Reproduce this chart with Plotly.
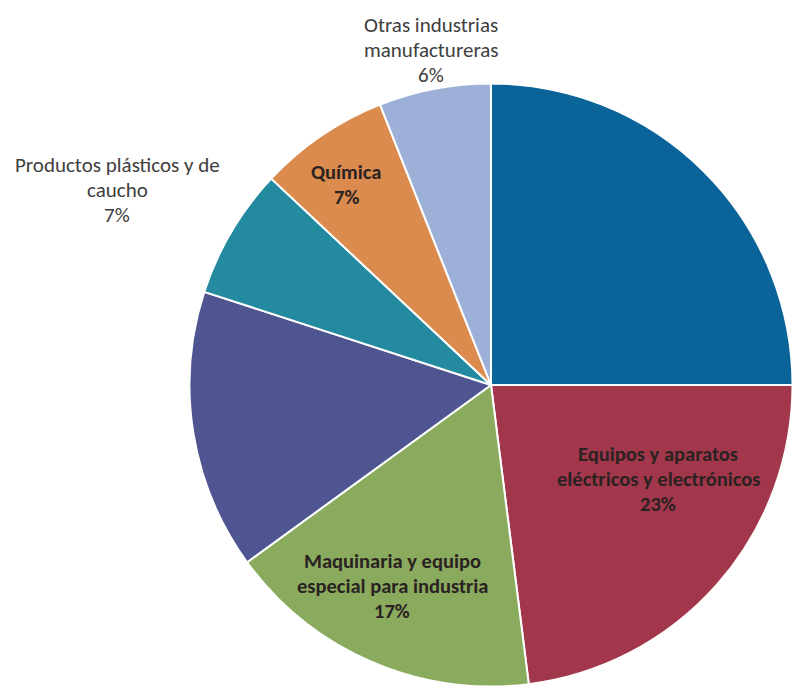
import plotly.graph_objects as go

# Slice values (percent), clockwise from 12 o'clock
values = [25, 23, 17, 15, 7, 7, 6]
slice_names = [
    "",
    "Equipos y aparatos<br>eléctricos y electrónicos",
    "Maquinaria y equipo<br>especial para industria",
    "",
    "Productos plásticos y de<br>caucho",
    "Química",
    "Otras industrias<br>manufactureras",
]
colors = ["#0A6399", "#A2374B", "#8AAA5E", "#4E5590", "#238AA0", "#DA8B4D", "#9DB1D8"]

W, H = 793, 691
cx, cy, R = 491, 385, 301.5  # pie centre and radius in pixels

fig = go.Figure(
    go.Pie(
        values=values,
        sort=False,
        direction="clockwise",
        rotation=0,
        marker=dict(colors=colors, line=dict(color="white", width=2)),
        textinfo="none",
        hoverinfo="percent",
        domain=dict(
            x=[max(0, (cx - R) / W), min(1, (cx + R) / W)],
            y=[max(0, (H - cy - R) / H), min(1, (H - cy + R) / H)],
        ),
        showlegend=False,
    )
)

# label anchor (centre of first line, px) and style per slice
label_pos = [
    None,
    (658, 454, True),
    (392, 561, True),
    None,
    (117, 165, False),
    (346, 172, True),
    (431, 25, False),
]
line_gap = 25

annotations = []
for name, val, pos in zip(slice_names, values, label_pos):
    if pos is None or not name:
        continue
    x0, y0, inside = pos
    lines = name.split("<br>") + [f"{val}%"]
    for i, ln in enumerate(lines):
        y = y0 + i * line_gap
        annotations.append(
            dict(
                x=x0 / W,
                y=1 - y / H,
                xref="paper",
                yref="paper",
                text=f"<b>{ln}</b>" if inside else ln,
                showarrow=False,
                xanchor="center",
                yanchor="middle",
                font=dict(
                    family="Carlito, Lato, sans-serif",
                    size=21 if not inside else 20.5,
                    color="#2a2222" if inside else "#404040",
                ),
            )
        )

fig.update_layout(
    width=W,
    height=H,
    margin=dict(l=0, r=0, t=0, b=0),
    paper_bgcolor="white",
    plot_bgcolor="white",
    annotations=annotations,
)

fig.write_html("out.html")
